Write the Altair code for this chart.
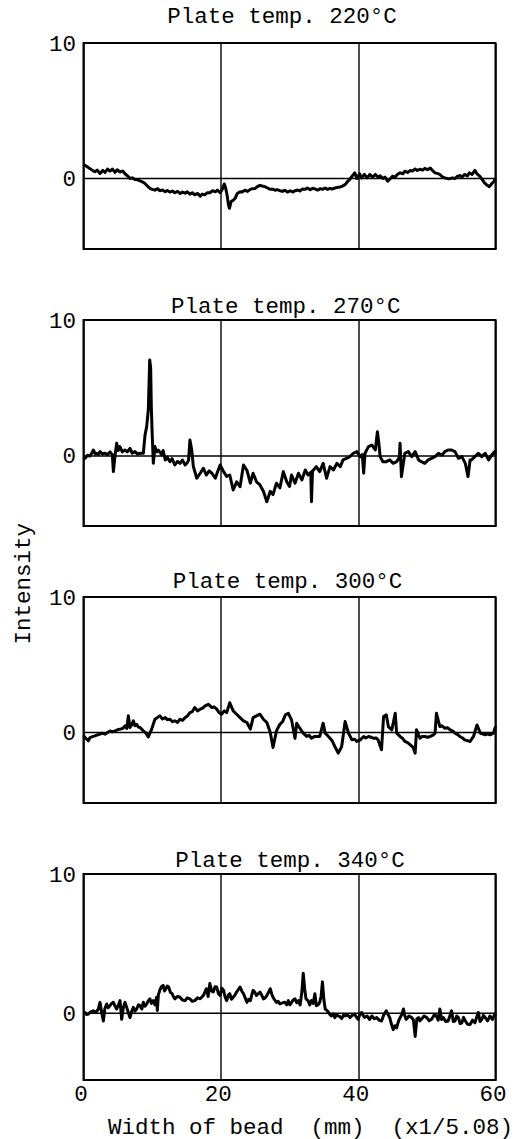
import altair as alt
import pandas as pd

FONT = "Liberation Mono"
FS = 22.5

titles = ["Plate temp. 220°C", "Plate temp. 270°C", "Plate temp. 300°C", "Plate temp. 340°C"]
x_ticks = [0, 20, 40, 60]
y_ticks = [0, 10]
x_title = "Width of bead\u00a0\u00a0(mm)\u00a0\u00a0(x1/5.08)"
y_title = "Intensity"

# (width of bead, intensity)
trace_220 = [(0.0,1.05),(0.2,0.98),(0.6,0.85),(0.95,0.73),(1.3,0.6),(1.67,0.5),(2.0,0.62),(2.4,0.37),(2.8,0.6),(3.13,0.45),(3.5,0.7),(3.86,0.55),(4.2,0.7),(4.59,0.45),(4.9,0.65),(5.32,0.48),(5.7,0.55),(6.04,0.35),(6.4,0.2),(6.77,0.0),(7.1,0.05),(7.5,-0.07),(7.9,-0.1),(8.23,-0.17),(8.6,-0.25),(8.96,-0.37),(9.3,-0.55),(9.68,-0.73),(10.0,-0.8),(10.4,-0.86),(10.8,-0.75),(11.1,-0.9),(11.5,-0.85),(11.9,-0.98),(12.2,-0.88),(12.6,-1.0),(12.95,-0.92),(13.3,-1.05),(13.7,-0.95),(14.05,-1.1),(14.4,-1.0),(14.8,-1.08),(15.1,-0.98),(15.5,-1.15),(15.85,-1.05),(16.2,-1.2),(16.6,-1.1),(17.0,-1.3),(17.3,-1.15),(17.7,-1.2),(18.0,-1.05),(18.4,-1.05),(18.8,-0.9),(19.2,-0.98),(19.5,-0.85),(19.9,-1.05),(20.2,-0.8),(20.5,-0.4),(20.7,-0.7),(20.9,-1.2),(21.1,-1.9),(21.25,-2.2),(21.5,-1.7),(21.8,-1.6),(22.1,-1.45),(22.4,-1.1),(22.8,-0.98),(23.1,-1.0),(23.5,-0.86),(23.9,-0.95),(24.3,-0.8),(24.6,-0.75),(25.0,-0.73),(25.3,-0.6),(25.7,-0.5),(26.0,-0.55),(26.4,-0.6),(26.8,-0.7),(27.2,-0.8),(27.5,-0.78),(27.9,-0.86),(28.2,-0.82),(28.6,-0.9),(29.0,-0.95),(29.34,-0.86),(29.7,-1.0),(30.1,-0.9),(30.5,-1.0),(30.8,-0.9),(31.2,-0.85),(31.5,-0.92),(31.9,-0.78),(32.3,-0.8),(32.6,-0.7),(33.0,-0.82),(33.4,-0.72),(33.7,-0.76),(34.1,-0.85),(34.5,-0.75),(34.8,-0.8),(35.2,-0.7),(35.5,-0.8),(35.9,-0.72),(36.2,-0.78),(36.6,-0.7),(37.0,-0.65),(37.4,-0.62),(37.7,-0.56),(38.1,-0.45),(38.5,-0.2),(38.8,-0.05),(39.0,0.1),(39.5,0.42),(39.8,0.0),(40.2,0.35),(40.5,0.05),(40.9,0.3),(41.3,0.05),(41.7,0.3),(42.1,0.1),(42.5,0.3),(42.9,0.1),(43.2,0.2),(43.6,0.0),(43.9,0.1),(44.3,-0.2),(44.7,0.0),(45.0,0.17),(45.4,0.1),(45.7,0.3),(46.1,0.42),(46.5,0.35),(46.8,0.54),(47.2,0.45),(47.6,0.6),(47.9,0.55),(48.3,0.7),(48.6,0.6),(49.0,0.68),(49.4,0.62),(49.7,0.75),(50.1,0.65),(50.5,0.78),(50.8,0.6),(51.2,0.42),(51.5,0.38),(51.9,0.3),(52.2,0.15),(52.6,0.05),(53.0,0.0),(53.3,-0.02),(53.7,0.05),(54.1,0.0),(54.4,0.15),(54.8,0.22),(55.1,0.1),(55.5,0.3),(55.9,0.2),(56.2,0.42),(56.6,0.3),(57.0,0.6),(57.3,0.35),(57.7,0.17),(58.1,-0.1),(58.4,-0.32),(58.8,-0.5),(59.1,-0.6),(59.5,-0.35),(59.8,-0.2),(60.0,0.0)]

trace_270 = [(0.0,-0.1),(0.22,-0.17),(0.6,0.05),(0.95,0.0),(1.2,0.2),(1.43,0.44),(1.7,0.15),(1.92,0.2),(2.15,0.1),(2.4,0.32),(2.75,0.15),(3.13,0.2),(3.5,0.1),(3.86,0.3),(4.2,0.1),(4.35,-1.15),(4.6,0.05),(4.83,0.93),(5.07,0.4),(5.3,0.69),(5.65,0.3),(6.04,0.44),(6.38,0.3),(6.77,0.56),(7.1,0.2),(7.5,0.32),(7.84,0.15),(8.23,0.2),(8.71,0.2),(8.96,1.54),(9.2,2.16),(9.44,3.4),(9.64,7.06),(9.78,6.5),(9.88,3.5),(10.0,1.67),(10.17,-0.54),(10.4,0.69),(10.65,0.3),(10.9,0.44),(11.4,0.07),(11.6,0.4),(11.9,-0.3),(12.2,-0.1),(12.6,-0.42),(12.9,-0.2),(13.3,-0.66),(13.7,-0.4),(14.05,-0.54),(14.4,-0.3),(14.8,-0.66),(15.1,-0.5),(15.3,-0.3),(15.5,1.18),(15.75,0.5),(16.0,-0.78),(16.5,-1.64),(17.0,-1.27),(17.45,-0.9),(17.9,-1.4),(18.3,-1.1),(18.7,-1.27),(19.2,-1.64),(19.5,-1.2),(19.9,-0.66),(20.4,-1.15),(20.85,-1.5),(21.3,-1.4),(21.8,-2.5),(22.3,-1.9),(22.8,-2.26),(23.3,-0.66),(23.8,-1.05),(24.3,-2.0),(24.7,-1.27),(25.2,-1.9),(25.7,-2.13),(26.2,-2.6),(26.7,-3.36),(27.2,-2.6),(27.6,-2.84),(28.1,-2.0),(28.6,-2.35),(29.1,-1.15),(29.6,-1.9),(30.0,-2.25),(30.3,-1.4),(30.8,-2.0),(31.3,-1.27),(31.8,-1.76),(32.3,-1.03),(32.7,-1.4),(33.1,-1.2),(33.2,-3.36),(33.35,-1.1),(33.5,-1.03),(33.9,-0.78),(34.4,-1.15),(34.9,-0.54),(35.4,-1.64),(35.9,-0.78),(36.4,-1.03),(36.9,-0.54),(37.4,-0.78),(37.8,-0.29),(38.3,-0.17),(38.8,-0.05),(39.3,0.2),(39.8,0.32),(40.3,-0.05),(40.6,0.1),(40.8,-1.27),(41.0,0.2),(41.5,0.69),(42.0,0.8),(42.5,0.44),(42.8,1.79),(43.0,1.0),(43.2,-0.05),(43.6,-0.42),(44.1,-0.42),(44.6,-0.29),(45.1,-0.54),(45.6,-0.42),(46.0,-0.1),(46.1,0.93),(46.3,-1.52),(46.8,0.2),(47.3,0.32),(47.8,-0.05),(48.3,0.32),(48.8,-0.29),(49.2,-0.42),(49.7,-0.54),(50.2,-0.29),(50.7,-0.17),(51.2,-0.05),(51.7,0.2),(52.2,0.05),(52.6,0.32),(53.1,0.44),(53.6,0.44),(54.1,0.32),(54.6,-0.17),(55.1,-0.05),(55.6,-0.54),(56.0,-1.52),(56.3,-0.3),(56.5,-0.29),(57.0,-0.05),(57.5,0.2),(58.0,-0.05),(58.5,0.2),(59.0,-0.29),(59.5,0.1),(59.9,0.32),(60.0,0.1)]

trace_300 = [(0.0,-0.2),(0.22,-0.37),(0.7,-0.61),(0.95,-0.37),(1.3,-0.3),(1.67,-0.25),(2.0,-0.18),(2.4,-0.12),(2.75,-0.05),(3.13,-0.12),(3.5,0.0),(3.86,0.12),(4.2,0.05),(4.59,0.12),(4.95,0.2),(5.32,0.25),(5.7,0.3),(6.04,0.49),(6.3,0.3),(6.53,1.23),(6.77,0.37),(7.0,0.55),(7.26,0.86),(7.5,0.5),(7.74,0.61),(8.0,0.4),(8.23,0.37),(8.71,0.12),(9.1,-0.05),(9.44,-0.32),(9.93,0.25),(10.4,0.98),(10.75,1.1),(11.1,1.23),(11.5,1.0),(11.9,1.1),(12.2,0.95),(12.6,0.98),(12.95,0.8),(13.3,0.86),(13.7,0.75),(14.05,0.98),(14.4,0.9),(14.8,1.1),(15.1,1.2),(15.5,1.47),(15.85,1.55),(16.2,1.84),(16.6,1.6),(17.0,1.72),(17.35,1.8),(17.7,1.96),(18.2,2.08),(18.7,1.84),(19.0,1.9),(19.4,1.72),(19.7,1.5),(20.1,1.35),(20.5,1.6),(20.85,1.47),(21.3,2.2),(21.8,1.6),(22.3,1.35),(22.8,1.1),(23.3,0.86),(23.8,0.74),(24.3,0.25),(24.7,1.1),(25.2,1.23),(25.7,1.35),(26.2,0.98),(26.7,0.74),(27.2,0.0),(27.6,-1.1),(28.1,0.12),(28.6,0.61),(29.0,0.8),(29.4,1.3),(29.83,1.42),(30.3,0.93),(30.8,-0.42),(31.05,0.69),(31.5,0.32),(32.0,-0.05),(32.5,-0.29),(32.85,-0.2),(33.2,-0.42),(33.6,-0.3),(33.95,-0.29),(34.4,-0.29),(34.9,0.69),(35.2,-0.05),(35.5,-0.2),(35.9,-0.42),(36.2,-0.6),(36.6,-1.03),(37.1,-1.52),(37.6,-1.03),(38.1,0.81),(38.6,-0.05),(39.1,-0.54),(39.5,-0.5),(39.8,-0.66),(40.3,-0.54),(40.8,-0.29),(41.1,-0.4),(41.5,-0.29),(41.9,-0.35),(42.2,-0.42),(42.6,-0.4),(42.9,-0.54),(43.4,-1.27),(43.7,1.18),(44.1,1.3),(44.4,0.44),(44.9,0.2),(45.4,1.42),(45.6,-0.05),(46.1,-0.29),(46.5,-0.45),(46.8,-0.66),(47.2,-0.75),(47.6,-0.91),(48.0,-1.1),(48.3,-1.52),(48.5,0.2),(49.0,-0.42),(49.3,-0.3),(49.7,-0.29),(50.1,-0.35),(50.5,-0.29),(50.9,-0.2),(51.2,-0.05),(51.4,1.42),(51.9,0.44),(52.2,0.5),(52.6,0.32),(53.0,0.35),(53.4,0.2),(53.8,0.1),(54.1,-0.05),(54.5,-0.15),(54.8,-0.29),(55.2,-0.4),(55.5,-0.54),(55.9,-0.6),(56.3,-0.66),(56.8,-0.29),(57.3,0.56),(57.8,-0.05),(58.1,-0.1),(58.5,-0.17),(58.9,-0.1),(59.2,-0.17),(59.7,-0.05),(60.0,0.44)]

trace_340 = [(0.0,0.1),(0.22,0.05),(0.45,-0.1),(0.7,-0.07),(1.05,0.1),(1.43,0.17),(1.8,0.05),(2.16,0.3),(2.4,0.78),(2.6,0.2),(2.89,-0.56),(3.1,0.3),(3.37,0.66),(3.6,0.4),(3.86,0.54),(4.1,0.7),(4.35,0.78),(4.6,0.5),(4.83,0.3),(5.1,0.6),(5.32,0.9),(5.56,-0.44),(5.8,0.4),(6.04,0.78),(6.3,0.4),(6.53,0.05),(6.77,-0.32),(7.0,0.1),(7.26,0.42),(7.5,0.15),(7.74,0.3),(8.0,0.6),(8.23,0.54),(8.5,0.3),(8.71,0.78),(8.95,0.5),(9.2,0.66),(9.45,0.9),(9.68,1.03),(9.9,0.7),(10.17,0.9),(10.4,0.6),(10.65,1.15),(10.75,0.2),(10.9,1.3),(11.1,1.64),(11.35,1.9),(11.6,2.0),(11.8,1.6),(12.0,1.76),(12.2,1.95),(12.4,1.88),(12.65,1.5),(12.9,1.4),(13.1,1.2),(13.3,1.03),(13.7,1.2),(14.05,1.15),(14.4,0.95),(14.8,0.9),(15.1,1.1),(15.5,1.03),(15.85,0.85),(16.2,0.9),(16.6,1.1),(17.0,1.03),(17.45,1.27),(17.9,1.76),(18.15,1.2),(18.4,2.13),(18.65,1.6),(18.9,1.52),(19.15,1.9),(19.4,1.88),(19.65,1.4),(19.9,1.27),(20.15,1.8),(20.4,1.64),(20.6,1.2),(20.85,0.9),(21.1,1.3),(21.3,1.4),(21.55,1.0),(21.8,1.15),(22.05,1.3),(22.3,1.52),(22.55,1.7),(22.8,1.88),(23.05,1.6),(23.3,1.4),(23.55,1.1),(23.8,0.78),(24.05,1.0),(24.3,0.9),(24.5,1.3),(24.7,1.64),(24.95,1.5),(25.2,1.27),(25.45,1.4),(25.7,1.52),(25.95,1.3),(26.2,1.03),(26.45,1.1),(26.7,1.27),(26.95,1.5),(27.2,1.76),(27.4,1.4),(27.6,1.15),(27.85,0.95),(28.1,0.78),(28.35,0.85),(28.6,0.66),(29.0,0.75),(29.34,0.78),(29.6,0.6),(29.83,0.9),(30.05,0.6),(30.3,0.78),(30.55,0.95),(30.8,1.03),(31.05,0.75),(31.3,0.9),(31.55,0.6),(31.8,1.52),(32.0,2.87),(32.2,1.8),(32.4,1.03),(32.7,0.9),(32.95,0.6),(33.2,0.9),(33.45,0.7),(33.7,1.4),(33.9,0.54),(34.15,0.6),(34.4,0.78),(34.6,1.2),(34.8,2.25),(35.0,1.0),(35.2,0.3),(35.45,0.2),(35.7,0.05),(35.9,-0.1),(36.1,-0.2),(36.35,-0.05),(36.6,-0.32),(36.85,-0.1),(37.1,-0.2),(37.35,-0.25),(37.6,-0.39),(37.85,-0.15),(38.1,-0.2),(38.45,-0.1),(38.8,-0.32),(39.15,-0.15),(39.5,-0.07),(39.75,-0.3),(40.0,-0.44),(40.25,-0.1),(40.5,0.05),(40.9,-0.3),(41.3,-0.2),(41.65,-0.45),(42.0,-0.2),(42.35,-0.4),(42.7,-0.32),(43.05,-0.5),(43.4,-0.56),(43.75,-0.1),(44.1,0.17),(44.35,-0.1),(44.6,-0.32),(44.85,-0.8),(45.1,-1.18),(45.35,-0.9),(45.6,-1.05),(45.85,-0.6),(46.1,-0.32),(46.35,-0.1),(46.6,0.3),(46.8,-0.2),(47.0,-0.44),(47.4,-0.2),(47.8,-0.32),(48.05,-0.5),(48.3,-1.67),(48.55,-0.4),(48.8,-0.32),(49.0,-0.55),(49.2,-0.44),(49.6,-0.2),(50.0,-0.32),(50.35,-0.55),(50.7,-0.44),(51.05,-0.15),(51.4,-0.2),(51.65,-0.5),(51.9,0.3),(52.15,-0.45),(52.4,-0.32),(52.75,-0.6),(53.1,-0.56),(53.35,-0.2),(53.6,0.17),(53.85,-0.6),(54.1,-0.56),(54.35,-0.2),(54.6,-0.32),(54.85,-0.75),(55.1,-0.69),(55.35,-0.3),(55.6,-0.56),(55.95,-0.8),(56.3,-0.81),(56.65,-0.5),(57.0,-0.69),(57.25,-0.3),(57.5,0.05),(57.75,-0.6),(58.0,-0.44),(58.25,-0.15),(58.5,-0.32),(58.85,-0.55),(59.2,-0.2),(59.55,-0.45),(59.9,-0.07),(60.0,-0.2)]

traces = [trace_220, trace_270, trace_300, trace_340]
y_mins = [-5.2, -5.15, -5.2, -4.8]
title_gap = [20, 7, 9, 7]          # px between title baseline and plot top
title_cx = [198.5, 202.3, 204, 206.5]  # px, title centre from plot left

PLOT_W = 412
PLOT_H = 206


def panel(i):
    df = pd.DataFrame(traces[i], columns=["x", "y"])
    last = i == 3
    xscale = alt.Scale(domain=[0, 60], nice=False, zero=False)
    yscale = alt.Scale(domain=[y_mins[i], 10], nice=False, zero=False)
    if last:
        xaxis = alt.Axis(values=x_ticks, grid=True, gridColor="black", gridOpacity=1,
                         gridWidth=1.4, ticks=False, tickSize=0, domain=False,
                         labelFont=FONT, labelFontSize=FS, labelColor="black",
                         labelPadding=20, labelBaseline="alphabetic", labelOffset=-3,
                         labelFlush=False, title=x_title, titleFont=FONT,
                         titleFontSize=FS, titleFontWeight="normal", titleColor="black",
                         titleX=226.5, titleY=53, titleAlign="center",
                         titleBaseline="alphabetic")
    else:
        xaxis = alt.Axis(values=x_ticks, grid=True, gridColor="black", gridOpacity=1,
                         gridWidth=1.4, ticks=False, tickSize=0, domain=False,
                         labels=False, title=None)
    if i == 2:
        yaxis = alt.Axis(values=y_ticks, grid=False, ticks=False, tickSize=0, domain=False,
                         labelFont=FONT, labelFontSize=FS, labelColor="black",
                         labelPadding=8, labelBaseline="middle",
                         title=y_title, titleFont=FONT, titleFontSize=FS,
                         titleFontWeight="normal", titleColor="black", titleAngle=270,
                         titleX=-54.5, titleY=-13.7, titleAlign="center",
                         titleBaseline="alphabetic")
    else:
        yaxis = alt.Axis(values=y_ticks, grid=False, ticks=False, tickSize=0, domain=False,
                         labelFont=FONT, labelFontSize=FS, labelColor="black",
                         labelPadding=8, labelBaseline="middle", title=None)
    zero = alt.Chart(pd.DataFrame({"z": [0]})).mark_rule(
        color="black", strokeWidth=1.4).encode(y=alt.datum(0, scale=yscale))
    line = alt.Chart(df).mark_line(color="black", strokeWidth=3,
                                   strokeJoin="round").encode(
        x=alt.X("x:Q", scale=xscale, axis=xaxis),
        y=alt.Y("y:Q", scale=yscale, axis=yaxis),
    )
    head = alt.Chart(pd.DataFrame({"t": [titles[i]]})).mark_text(
        font=FONT, fontSize=FS, color="black", align="center", baseline="alphabetic"
    ).encode(text="t:N", x=alt.value(title_cx[i]), y=alt.value(-title_gap[i]))
    return alt.layer(zero, line, head).properties(width=PLOT_W, height=PLOT_H)


chart = alt.vconcat(*[panel(i) for i in range(4)], spacing=71, bounds="flush").properties(
    padding={"left": 9.5, "top": 4, "right": 5, "bottom": 0},
    background="white",
).configure_view(stroke="black", strokeWidth=2)

chart.save("out.html", embed_options={"renderer": "svg", "actions": False})
